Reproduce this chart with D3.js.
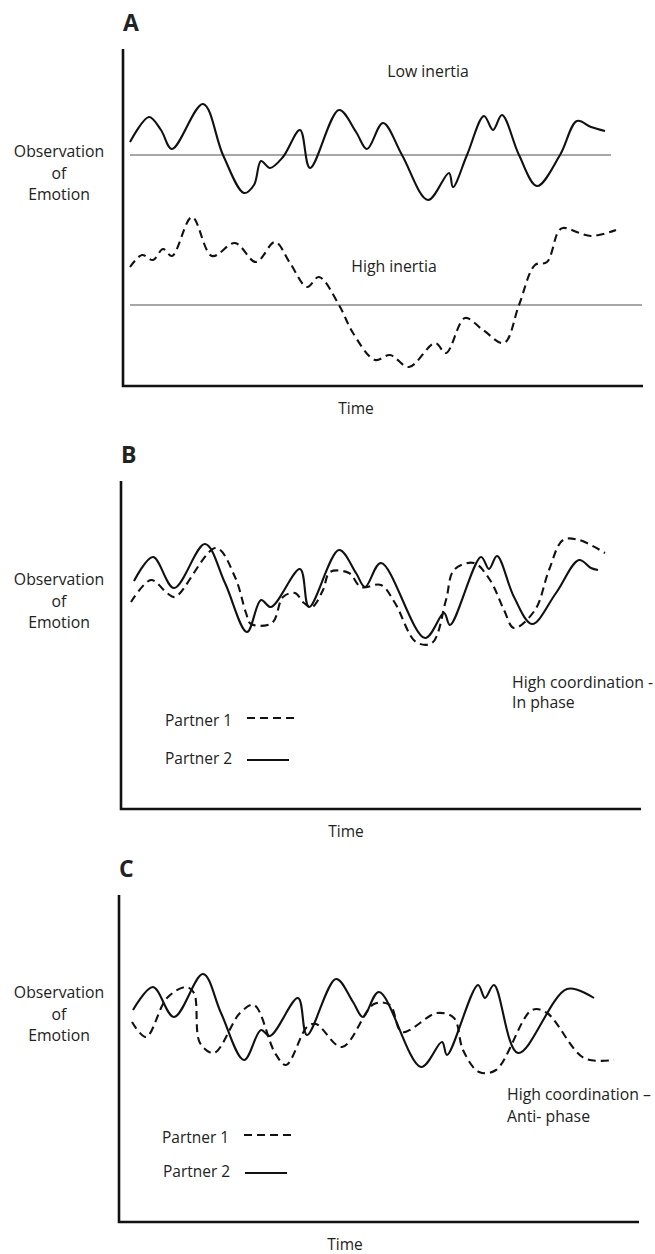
<!DOCTYPE html>
<html>
<head>
<meta charset="utf-8">
<script src="https://cdn.jsdelivr.net/npm/d3@7"></script>
<style>
  body { margin: 0; background: #fff; }
  text { font-family: "Open Sans", sans-serif; fill: #222; }
</style>
</head>
<body>
<div id="chart-area"></div>
<script>
// DATA: TIME STEPS AND EMOTION LEVELS

// PANEL A
const timeLowInertia  = [7, 26, 38, 49, 80, 100, 121, 131, 138, 147, 160, 177, 187, 216, 233, 244, 260, 279, 305, 326, 330, 344, 361, 370, 379, 396, 414, 437, 454, 468, 482]
const valueLowInertia = [244, 269, 256, 237, 282, 231, 193, 201, 225, 218, 229, 256, 218, 276, 254, 237, 263, 231, 186, 213, 199, 231, 270, 256, 271, 231, 200, 231, 265, 259, 255]
const timeHighInertia  = [7, 19, 30, 40, 49, 69, 89, 112, 133, 152, 167, 184, 196, 216, 230, 252, 267, 286, 312, 323, 342, 360, 381, 396, 412, 424, 435, 440, 468, 493]
const valueHighInertia = [119, 131, 126, 137, 130, 169, 130, 143, 124, 144, 123, 99, 109, 81, 53, 26, 31, 19, 43, 33, 68, 56, 43, 81, 121, 124, 154, 158, 150, 156]
const meanLowInertia  = 231
const meanHighInertia = 81

// PANEL B (IN PHASE)
const timeInPhase1  = [10, 30, 46, 54, 95, 114, 125, 130, 151, 162, 174, 183, 191, 202, 209, 228, 240, 260, 274, 295, 311, 325, 333, 353, 369, 383, 393, 414, 428, 442, 458, 484]
const valueInPhase1 = [207, 229, 216, 212, 261, 232, 196, 185, 186, 212, 216, 206, 202, 219, 237, 236, 222, 224, 206, 167, 166, 209, 239, 246, 229, 199, 181, 199, 239, 269, 269, 256]
const timeInPhase2  = [13, 32, 53, 84, 104, 126, 140, 150, 179, 188, 218, 235, 244, 260, 304, 323, 329, 360, 368, 376, 393, 411, 435, 458, 470, 477]
const valueInPhase2 = [228, 252, 221, 265, 226, 177, 209, 202, 240, 202, 259, 236, 222, 246, 171, 196, 184, 252, 240, 253, 212, 185, 216, 249, 241, 239]

// PANEL C (ANTI-PHASE)
const timeAntiPhase1  = [13, 27, 48, 67, 75, 81, 95, 121, 135, 156, 167, 188, 197, 223, 255, 271, 283, 318, 335, 344, 360, 377, 413, 428, 465, 495]
const valueAntiPhase1 = [200, 185, 224, 235, 229, 179, 169, 209, 217, 169, 157, 195, 198, 175, 218, 217, 190, 209, 204, 172, 150, 152, 212, 209, 164, 162]
const timeAntiPhase2  = [14, 34, 55, 84, 102, 125, 142, 151, 179, 188, 217, 234, 244, 260, 302, 323, 328, 359, 366, 375, 399, 448, 475]
const valueAntiPhase2 = [212, 235, 205, 248, 209, 162, 192, 186, 224, 187, 243, 220, 205, 230, 155, 180, 167, 237, 224, 237, 169, 233, 224]

const zip = (t, v) => t.map((d, i) => ({ t: d, v: v[i] }))

// CREATE SVG CONTAINER
const svg = d3.select('#chart-area')
              .append('svg')
              .attr('width', 655)
              .attr('height', 1254)

// ONE PANEL = AXES + LABELS + CURVES
function drawPanel(p) {
    const g = svg.append('g')

    let x = d3.scaleLinear()
              .domain([0, 520])
              .range([p.left, p.left + 520])

    let y = d3.scaleLinear()
              .domain([0, p.bottom - p.top])
              .range([p.bottom, p.top])

    let line = d3.line()
                 .x(d => x(d.t))
                 .y(d => y(d.v))
                 .curve(d3.curveCatmullRom.alpha(0.5))

    // PANEL LETTER
    g.append('text')
     .attr('x', p.left)
     .attr('y', p.top - 18)
     .attr('font-size', 23)
     .attr('font-weight', 'bold')
     .text(p.letter)

    // Y AXIS LABEL
    g.selectAll('.ylab')
     .data(['Observation', 'of', 'Emotion'])
     .enter()
     .append('text')
     .attr('x', 59)
     .attr('y', (d, i) => p.labelY + i * 21.5)
     .attr('text-anchor', 'middle')
     .attr('font-size', 15.8)
     .text(d => d)

    // MEAN LINES (PANEL A ONLY)
    if (p.means) {
        g.selectAll('.mean')
         .data(p.means)
         .enter()
         .append('line')
         .attr('x1', x(7))
         .attr('x2', d => x(d.end))
         .attr('y1', d => y(d.v))
         .attr('y2', d => y(d.v))
         .attr('stroke', '#8a8a8a')
         .attr('stroke-width', 1.6)
    }

    // CURVES
    g.selectAll('.series')
     .data(p.series)
     .enter()
     .append('path')
     .attr('d', d => line(d.points))
     .attr('fill', 'none')
     .attr('stroke', '#111')
     .attr('stroke-width', 2.1)
     .attr('stroke-dasharray', d => d.dashed ? '8,5' : null)

    // AXES (PLAIN L SHAPE, NO TICKS)
    g.append('path')
     .attr('d', `M${x(0)},${y(p.bottom - p.top)}V${y(0)}H${x(520)}`)
     .attr('fill', 'none')
     .attr('stroke', '#111')
     .attr('stroke-width', 2.6)

    g.append('text')
     .attr('x', p.timeX)
     .attr('y', p.bottom + 28)
     .attr('text-anchor', 'middle')
     .attr('font-size', 15.5)
     .text('Time')

    // FREE TEXT NOTES
    g.selectAll('.note')
     .data(p.notes)
     .enter()
     .append('text')
     .attr('x', d => d.x)
     .attr('y', d => d.y)
     .attr('text-anchor', d => d.anchor || 'start')
     .attr('font-size', 15.8)
     .text(d => d.text)

    // LEGEND
    if (p.legend) {
        let lg = g.selectAll('.legend')
                  .data(p.legend)
                  .enter()
                  .append('g')

        lg.append('text')
          .attr('x', d => d.x)
          .attr('y', d => d.y + 5)
          .attr('font-size', 15.5)
          .text(d => d.label)

        lg.append('line')
          .attr('x1', d => d.x + 82)
          .attr('x2', d => d.x + (d.dashed ? 134 : 124))
          .attr('y1', d => d.y + (d.dashed ? -3 : 1))
          .attr('y2', d => d.y + (d.dashed ? -3 : 1))
          .attr('stroke', '#111')
          .attr('stroke-width', 2)
          .attr('stroke-dasharray', d => d.dashed ? '8,5' : null)
    }
}

drawPanel({
    letter: 'A', left: 123, top: 49, bottom: 386, labelY: 157, timeX: 356,
    means: [{ v: meanLowInertia, end: 488 }, { v: meanHighInertia, end: 519 }],
    series: [
        { points: zip(timeLowInertia, valueLowInertia), dashed: false },
        { points: zip(timeHighInertia, valueHighInertia), dashed: true }
    ],
    notes: [
        { x: 428, y: 77, text: 'Low inertia', anchor: 'middle' },
        { x: 394, y: 272, text: 'High inertia', anchor: 'middle' }
    ]
})

drawPanel({
    letter: 'B', left: 121, top: 481, bottom: 809, labelY: 585, timeX: 346,
    series: [
        { points: zip(timeInPhase1, valueInPhase1), dashed: true },
        { points: zip(timeInPhase2, valueInPhase2), dashed: false }
    ],
    notes: [
        { x: 512, y: 688, text: 'High coordination -' },
        { x: 512, y: 708, text: 'In phase' }
    ],
    legend: [
        { x: 165, y: 721, label: 'Partner 1', dashed: true },
        { x: 165, y: 759, label: 'Partner 2', dashed: false }
    ]
})

drawPanel({
    letter: 'C', left: 119, top: 895, bottom: 1222, labelY: 998, timeX: 345,
    series: [
        { points: zip(timeAntiPhase1, valueAntiPhase1), dashed: true },
        { points: zip(timeAntiPhase2, valueAntiPhase2), dashed: false }
    ],
    notes: [
        { x: 507, y: 1100, text: 'High coordination \u2013' },
        { x: 507, y: 1122, text: 'Anti- phase' }
    ],
    legend: [
        { x: 162, y: 1138, label: 'Partner 1', dashed: true },
        { x: 163, y: 1172, label: 'Partner 2', dashed: false }
    ]
})
</script>
</body>
</html>
